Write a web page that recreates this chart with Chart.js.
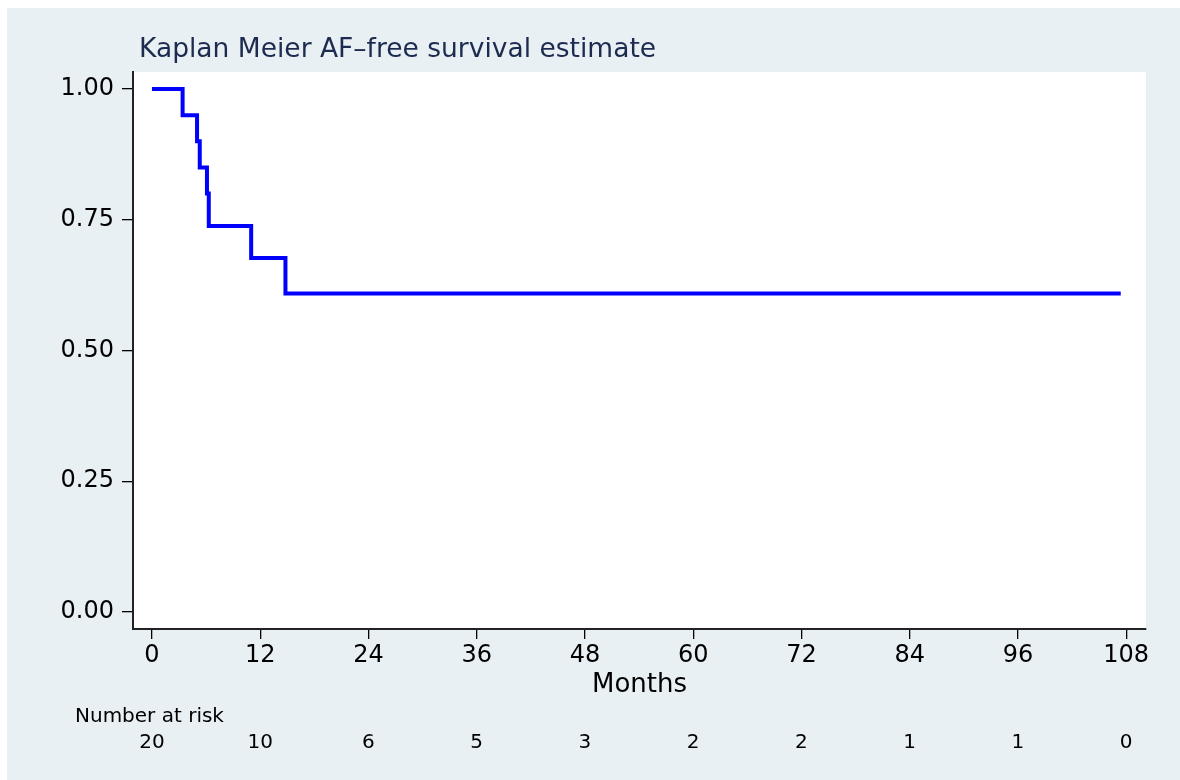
<!DOCTYPE html>
<html>
<head>
<meta charset="utf-8">
<script src="https://cdn.jsdelivr.net/npm/chart.js@4.4.0/dist/chart.umd.min.js"></script>
<style>
  html, body { margin: 0; padding: 0; background: #ffffff; }
  #wrap { width: 1180px; height: 780px; position: relative; }
</style>
</head>
<body>
<div id="wrap"><canvas id="kmChart"></canvas></div>
<script>
// Kaplan-Meier step points (months, survival)
const months = [0, 3.4, 5.0, 5.3, 6.1, 6.3, 11.0, 14.8, 107.4];
const survival = [1.0, 0.95, 0.90, 0.85, 0.80, 0.738, 0.677, 0.609, 0.609];

// axis ticks
const xTicks = [0, 12, 24, 36, 48, 60, 72, 84, 96, 108];
const yTicks = [0, 0.25, 0.5, 0.75, 1.0];

// number at risk under each x tick
const atRisk = [20, 10, 6, 5, 3, 2, 2, 1, 1, 0];

const bgColor = '#e8f0f3';
const fontFam = "'DejaVu Sans', sans-serif";

// background panel + white plot region, title and the risk table text
const panelPlugin = {
    id: 'panel',
    beforeDraw(chart) {
        const c = chart.ctx;
        const a = chart.chartArea;
        c.save();
        c.fillStyle = '#ffffff';
        c.fillRect(0, 0, chart.width, chart.height);
        c.fillStyle = bgColor;
        c.fillRect(7, 8, chart.width - 7, chart.height - 8);
        c.fillStyle = '#ffffff';
        c.fillRect(a.left, a.top, a.right - a.left, a.bottom - a.top);
        c.restore();
    },
    afterDraw(chart) {
        const c = chart.ctx;
        const x = chart.scales.x;
        c.save();
        c.fillStyle = '#1c2b4f';
        c.font = '26.5px ' + fontFam;
        c.textBaseline = 'middle';
        c.textAlign = 'left';
        c.fillText('Kaplan Meier AF\u2013free survival estimate', 139, 50);
        c.fillStyle = '#000000';
        c.font = '20px ' + fontFam;
        c.textBaseline = 'alphabetic';
        c.fillText('Number at risk', 75, 722);
        c.textAlign = 'center';
        xTicks.forEach((t, i) => {
            c.fillText(String(atRisk[i]), x.getPixelForValue(t), 748);
        });
        c.restore();
    }
};

const ctx = document.getElementById('kmChart').getContext('2d');
const kmChart = new Chart(ctx, {
    type: 'line',
    data: {
        datasets: [{
            label: 'AF-free survival',
            data: months.map((m, i) => ({ x: m, y: survival[i] })),
            borderColor: '#0000ff',
            borderWidth: 4,
            stepped: 'before',
            pointRadius: 0,
            fill: false
        }]
    },
    options: {
        responsive: true,
        maintainAspectRatio: false,
        animation: false,
        layout: { padding: { left: 0, top: 72, right: 34, bottom: 79 } },
        plugins: {
            legend: { display: false },
            tooltip: { enabled: false },
            title: { display: false }
        },
        scales: {
            x: {
                type: 'linear',
                min: -2.1,
                max: 110.2,
                afterBuildTicks: s => { s.ticks = xTicks.map(v => ({ value: v })); },
                afterFit: s => { s.height = 72; },
                grid: { drawOnChartArea: false, drawTicks: true, tickLength: 10, color: '#000000', lineWidth: 1.3 },
                border: { display: true, color: '#222222', width: 2 },
                ticks: { color: '#000000', font: { family: fontFam, size: 24 }, padding: 2, maxRotation: 0 },
                title: {
                    display: true,
                    text: 'Months',
                    color: '#000000',
                    font: { family: fontFam, size: 26 },
                    padding: 0
                }
            },
            y: {
                type: 'linear',
                min: -0.0325,
                max: 1.0325,
                afterBuildTicks: s => { s.ticks = yTicks.map(v => ({ value: v })); },
                afterFit: s => { s.width = 133; },
                grid: { drawOnChartArea: false, drawTicks: true, tickLength: 11, color: '#000000', lineWidth: 1.3 },
                border: { display: true, color: '#222222', width: 2 },
                ticks: {
                    color: '#000000',
                    font: { family: fontFam, size: 24 },
                    padding: 8,
                    callback: v => v.toFixed(2)
                }
            }
        }
    },
    plugins: [panelPlugin]
});
</script>
</body>
</html>
